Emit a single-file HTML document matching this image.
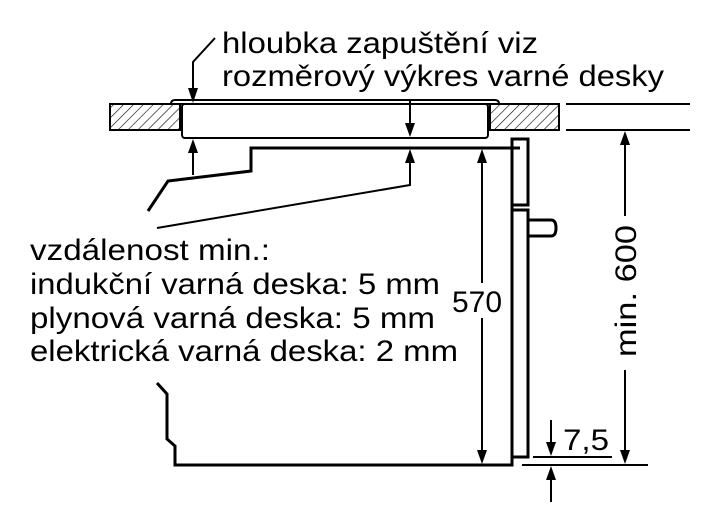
<!DOCTYPE html>
<html><head><meta charset="utf-8"><style>body{margin:0;background:#fff}svg{display:block}text{font-family:"Liberation Sans",sans-serif;fill:#000}</style></head><body>
<svg width="720" height="531" viewBox="0 0 720 531" xmlns="http://www.w3.org/2000/svg">
<defs>
<pattern id="h" width="7" height="7" patternUnits="userSpaceOnUse" patternTransform="rotate(45)"><line x1="0" y1="0" x2="0" y2="7" stroke="#000" stroke-width="1.2"/></pattern>
</defs>
<g fill="none" stroke="#000">
<rect x="110" y="104" width="70" height="26" fill="url(#h)" stroke-width="2"/>
<rect x="490" y="104" width="69" height="26" fill="url(#h)" stroke-width="2"/>
<line x1="566" y1="104" x2="690" y2="104" stroke-width="2"/>
<line x1="566" y1="130" x2="690" y2="130" stroke-width="2"/>
<path d="M171,104 Q171,100 175,100 L495,100 Q499,100 499,104 Z" stroke-width="2" fill="#fff"/>
<rect x="182" y="104" width="306" height="34" rx="3" stroke-width="2"/>
<path d="M520,148 L251,148 L251,171 L168,181 L148,211" stroke-width="3"/>
<path d="M157,383 L167,394 L167,439 L175,446 L175,465 L512,465 L512,457 L528,457 L528,210 L512,210 L512,205 L528,205 L528,139 L512,139 L512,457" stroke-width="3"/>
<path d="M528,220 L551,220 Q556,220 556,228 Q556,236 551,236 L528,236" stroke-width="3"/>
<path d="M215,38 L193,62 L193,95" stroke-width="2"/>
<path d="M198,88 L193,103 L188,88 Z" fill="#000" stroke="none"/>
<line x1="193" y1="175" x2="193" y2="150" stroke-width="2"/>
<path d="M188,153 L193,139 L198,153 Z" fill="#000" stroke="none"/>
<line x1="410" y1="100" x2="410" y2="126" stroke-width="2"/>
<path d="M405,123 L410,137 L415,123 Z" fill="#000" stroke="none"/>
<path d="M410,160 L410,185 L157,228" stroke-width="2"/>
<path d="M405,163 L410,149 L415,163 Z" fill="#000" stroke="none"/>
<line x1="482" y1="158" x2="482" y2="283" stroke-width="2"/>
<line x1="482" y1="318" x2="482" y2="455" stroke-width="2"/>
<path d="M477,163 L482,149 L487,163 Z" fill="#000" stroke="none"/>
<path d="M477,450 L482,464 L487,450 Z" fill="#000" stroke="none"/>
<line x1="625" y1="140" x2="625" y2="216" stroke-width="2"/>
<line x1="625" y1="370" x2="625" y2="455" stroke-width="2"/>
<path d="M620,145 L625,131 L630,145 Z" fill="#000" stroke="none"/>
<path d="M620,450 L625,464 L630,450 Z" fill="#000" stroke="none"/>
<line x1="522" y1="465" x2="648" y2="465" stroke-width="2"/>
<line x1="533" y1="457" x2="612" y2="457" stroke-width="2"/>
<line x1="551" y1="420" x2="551" y2="445" stroke-width="2"/>
<path d="M546,442 L551,456 L556,442 Z" fill="#000" stroke="none"/>
<line x1="551" y1="478" x2="551" y2="502" stroke-width="2"/>
<path d="M546,480 L551,466 L556,480 Z" fill="#000" stroke="none"/>
</g>
<g font-size="30">
<text x="222" y="53" textLength="316" lengthAdjust="spacingAndGlyphs">hloubka zapuštění viz</text>
<text x="222" y="86" textLength="442" lengthAdjust="spacingAndGlyphs">rozměrový výkres varné desky</text>
<text x="30" y="260" textLength="240" lengthAdjust="spacingAndGlyphs">vzdálenost min.:</text>
<text x="30" y="294" textLength="410" lengthAdjust="spacingAndGlyphs">indukční varná deska: 5 mm</text>
<text x="30" y="328" textLength="405" lengthAdjust="spacingAndGlyphs">plynová varná deska: 5 mm</text>
<text x="30" y="361" textLength="428" lengthAdjust="spacingAndGlyphs">elektrická varná deska: 2 mm</text>
<text x="452" y="312" textLength="50" lengthAdjust="spacingAndGlyphs">570</text>
<text x="563" y="450" textLength="46" lengthAdjust="spacingAndGlyphs">7,5</text>
<text transform="translate(636,357) rotate(-90)" textLength="132" lengthAdjust="spacingAndGlyphs">min. 600</text>
</g>
</svg>
</body></html>
